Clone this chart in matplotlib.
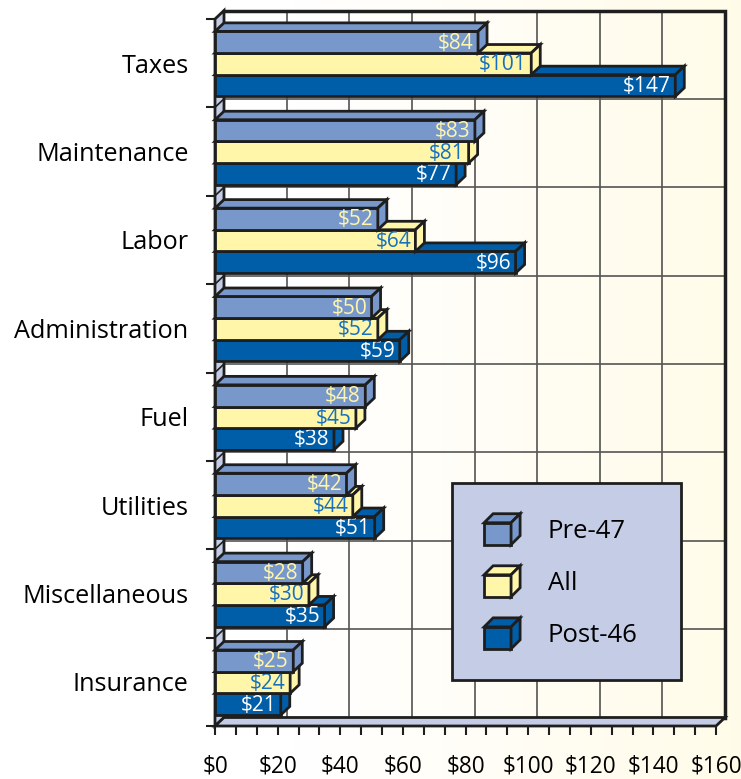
import matplotlib.pyplot as plt
import numpy as np
from matplotlib.patches import Polygon, Patch
from matplotlib.legend_handler import HandlerBase

categories = ['Taxes', 'Maintenance', 'Labor', 'Administration', 'Fuel',
              'Utilities', 'Miscellaneous', 'Insurance']
pre47 = [84, 83, 52, 50, 48, 42, 28, 25]
all_bldg = [101, 81, 64, 52, 45, 44, 30, 24]
post46 = [147, 77, 96, 59, 38, 51, 35, 21]
series_names = ['Pre-47', 'All', 'Post-46']
x_ticks = list(range(0, 161, 20))
x_ticklabels = ['$' + str(t) for t in x_ticks]

face_colors = ['#7898cc', '#fff6aa', '#005ea8']
label_colors = ['#fff6aa', '#1670c0', '#ffffff']
wall_color = '#c5cde6'
edge = '#1e1e1e'

plt.rcParams['font.family'] = ['Open Sans', 'DejaVu Sans']

W, H = 741, 779
fig = plt.figure(figsize=(W / 100, H / 100), dpi=100)

# soft white -> cream background
bg = fig.add_axes([0, 0, 1, 1], zorder=-10)
t = np.clip((np.linspace(0, 1, 400) - 0.4) / 0.6, 0, 1)
cream = np.array([1.0, 0.988, 0.915])
rgb = (1 - t)[:, None] * np.ones(3) + t[:, None] * cream
bg.imshow(rgb[None, :, :], aspect='auto', extent=[0, 1, 0, 1])
bg.axis('off')

ax = fig.add_axes([215 / W, 1 - 726 / H, 501 / W, 707 / H])
ax.set_xlim(0, 160)
ax.set_ylim(8, 0)
ax.patch.set_alpha(0)
for s in ax.spines.values():
    s.set_visible(False)

# depth of the fake 3d look, in data units
dx = 9 / 501 * 160
dy = 8.5 / 707 * 8
n = len(categories)

# walls and grid
ax.add_patch(Polygon([(0, 0), (dx, -dy), (dx, n - dy), (0, n)], closed=True,
                     fc=wall_color, ec=edge, lw=2, clip_on=False, zorder=1))
ax.add_patch(Polygon([(0, n), (dx, n - dy), (160 + dx, n - dy), (160, n)], closed=True,
                     fc=wall_color, ec=edge, lw=2, clip_on=False, zorder=1))
for x in x_ticks[1:-1]:
    ax.plot([x + dx, x + dx], [-dy, n - dy], color='#444444', lw=1.1, clip_on=False, zorder=0.5)
for k in range(1, n):
    ax.plot([dx, 160 + dx], [k - dy, k - dy], color='#555555', lw=1.2, clip_on=False, zorder=0.5)
    ax.plot([0, dx], [k, k - dy], color=edge, lw=1.2, clip_on=False, zorder=1.5)
ax.plot([dx, 160 + dx, 160 + dx], [-dy, -dy, n - dy], color=edge, lw=2.5,
        clip_on=False, zorder=0.8, solid_joinstyle='miter')

# bars
bh = 0.245
y0 = 0.14
series = [pre47, all_bldg, post46]
for j, vals in enumerate(series):
    z = 5 - j
    tops = np.arange(n) + y0 + j * bh
    centers = tops + bh / 2
    ax.barh(centers, vals, height=bh, left=0, color=face_colors[j], edgecolor=edge,
            linewidth=2, zorder=z)
    for top, c, v in zip(tops, centers, vals):
        bot = top + bh
        ax.add_patch(Polygon([(0, top), (dx, top - dy), (v + dx, top - dy), (v, top)],
                             closed=True, fc=face_colors[j], ec=edge, lw=2,
                             joinstyle='miter', clip_on=False, zorder=z))
        ax.add_patch(Polygon([(v, top), (v + dx, top - dy), (v + dx, bot - dy), (v, bot)],
                             closed=True, fc=face_colors[j], ec=edge, lw=2,
                             joinstyle='miter', clip_on=False, zorder=z))
        ax.text(v - 1.4, c + 0.01, '$' + str(v), ha='right', va='center',
                color=label_colors[j], fontsize=15, zorder=z + 0.5)

# axes ticks and labels
ax.set_yticks(range(n + 1))
ax.set_yticklabels([])
ax.set_yticks(np.arange(n) + 0.5, minor=True)
ax.set_yticklabels(categories, minor=True)
ax.tick_params(axis='y', which='major', length=6.5, width=1.5, color=edge)
ax.tick_params(axis='y', which='minor', length=0, pad=19, labelsize=18.2)
ax.set_xticks(x_ticks)
ax.set_xticklabels(x_ticklabels)
ax.set_xticks(np.arange(0, 161, 20 / 3), minor=True)
ax.tick_params(axis='x', which='both', length=6.5, width=1.5, color=edge, pad=14,
               labelsize=16.3)


class CubeHandler(HandlerBase):
    def create_artists(self, legend, orig_handle, xdescent, ydescent, width, height,
                       fontsize, trans):
        d = 6.5
        fw, fh = 19.4, 15.8
        x0 = -xdescent
        cy = -ydescent + height / 2
        y0_ = cy - (fh + d) / 2
        x1, y1 = x0 + fw, y0_ + fh
        fc = orig_handle.get_facecolor()
        kw = dict(fc=fc, ec=edge, lw=2, joinstyle='miter', transform=trans)
        front = Polygon([(x0, y0_), (x1, y0_), (x1, y1), (x0, y1)], closed=True, **kw)
        top = Polygon([(x0, y1), (x0 + d, y1 + d), (x1 + d, y1 + d), (x1, y1)], closed=True, **kw)
        side = Polygon([(x1, y0_), (x1 + d, y0_ + d), (x1 + d, y1 + d), (x1, y1)], closed=True, **kw)
        return [front, top, side]


handles = [Patch(facecolor=c) for c in face_colors]
fs = 18.5
leg = ax.legend(handles, series_names, handler_map={Patch: CubeHandler()},
                loc='upper left', bbox_to_anchor=(452 / W, 1 - 483 / H, 229 / W, 0),
                bbox_transform=fig.transFigure, mode='expand', borderaxespad=0,
                fontsize=fs, handlelength=1.4, handleheight=1.31, labelspacing=0.91,
                borderpad=1.25, handletextpad=1.07, fancybox=False, framealpha=1,
                facecolor=wall_color, edgecolor=edge)
leg.get_frame().set_linewidth(2)
leg.set_zorder(10)

fig.savefig('out.png', dpi=100)
